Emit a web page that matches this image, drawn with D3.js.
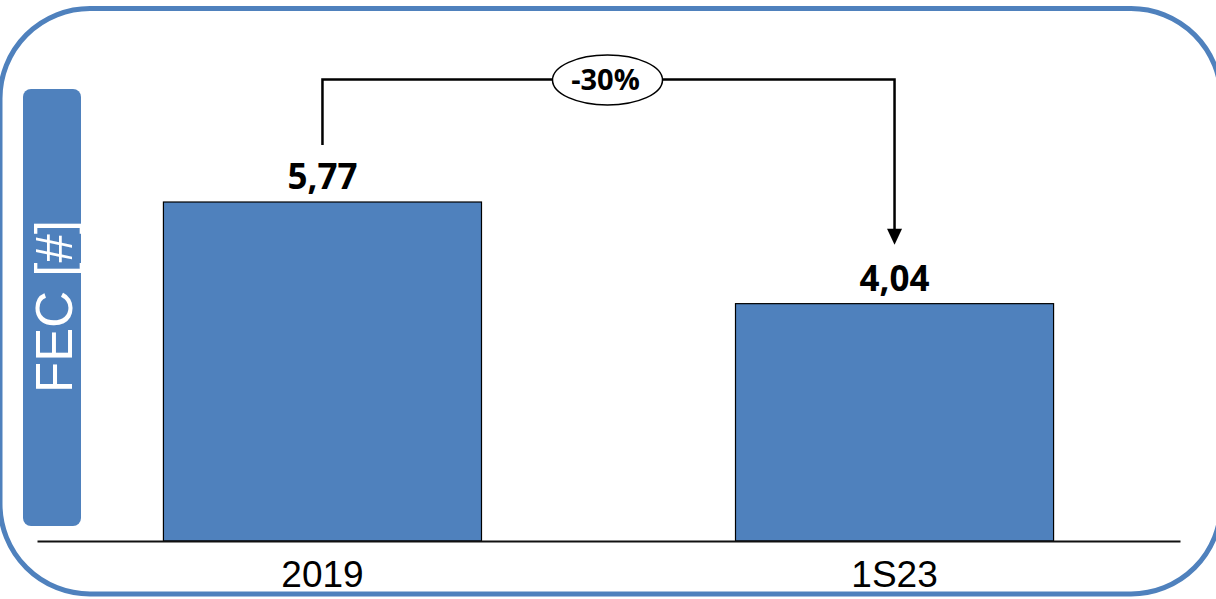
<!DOCTYPE html>
<html>
<head>
<meta charset="utf-8">
<script src="https://cdn.jsdelivr.net/npm/d3@7"></script>
<style>
  html, body { margin: 0; padding: 0; background: #fff; overflow: hidden; }
</style>
</head>
<body>
<div class="chart"></div>
<script>
const categories = ["2019", "1S23"];
const values = [5.77, 4.04];
const valueLabels = ["5,77", "4,04"];
const changeLabel = "-30%";
const axisTitle = "FEC [#]";

const blue = "#4f81bd";
const width = 1216, height = 599;

const svg = d3.select(".chart")
  .append("svg")
  .attr("width", width)
  .attr("height", height);

// outer rounded frame
svg.append("rect")
  .attr("x", 0)
  .attr("y", 8.5)
  .attr("width", 1221)
  .attr("height", 585.5)
  .attr("rx", 90)
  .attr("fill", "none")
  .attr("stroke", blue)
  .attr("stroke-width", 5);

// y title box
svg.append("rect")
  .attr("x", 23)
  .attr("y", 89)
  .attr("width", 58)
  .attr("height", 437)
  .attr("rx", 8)
  .attr("fill", blue);

svg.append("text")
  .attr("transform", "translate(72,306.5) rotate(-90)")
  .attr("text-anchor", "middle")
  .attr("font-family", "Liberation Sans, Arial, sans-serif")
  .attr("font-size", 51)
  .attr("fill", "#fff")
  .text(axisTitle);

var x = d3.scaleBand()
  .domain(categories)
  .range([37, 1180])
  .paddingInner(0.444)
  .paddingOuter(0.221);

var y = d3.scaleLinear().domain([0, 9]).range([541, 12.25]);

// bars
svg.selectAll(".bar")
  .data(values)
  .enter()
  .append("rect")
  .attr("class", "bar")
  .attr("x", function (d, i) { return x(categories[i]); })
  .attr("y", function (d) { return y(d); })
  .attr("width", x.bandwidth())
  .attr("height", function (d) { return y(0) - y(d); })
  .attr("fill", blue)
  .attr("stroke", "#000")
  .attr("stroke-width", 1.2);

// x axis
var xAxis = svg.append("g")
  .attr("transform", "translate(0," + y(0) + ")")
  .call(d3.axisBottom(x).tickSize(0).tickPadding(20));
xAxis.select(".domain").attr("stroke", "#111").attr("stroke-width", 2);
xAxis.selectAll("text")
  .attr("font-family", "Liberation Sans, Arial, sans-serif")
  .attr("font-size", 37)
  .attr("fill", "#000");

// value labels
svg.selectAll(".vlabel")
  .data(values)
  .enter()
  .append("text")
  .attr("class", "vlabel")
  .attr("x", function (d, i) { return x(categories[i]) + x.bandwidth() / 2; })
  .attr("y", function (d) { return y(d) - 13; })
  .attr("text-anchor", "middle")
  .attr("font-family", "Open Sans, sans-serif")
  .attr("font-weight", "bold")
  .attr("font-size", 35)
  .attr("fill", "#000")
  .text(function (d, i) { return valueLabels[i]; });

// change bracket
var bx1 = x(categories[0]) + x.bandwidth() / 2;
var bx2 = x(categories[1]) + x.bandwidth() / 2;
var bTop = 79.5;
var by1 = y(values[0]) - 57;
var tip = y(values[1]) - 59;

svg.append("path")
  .attr("d", "M" + bx1 + "," + by1 + "V" + bTop + "H" + bx2 + "V" + (tip - 14))
  .attr("fill", "none")
  .attr("stroke", "#000")
  .attr("stroke-width", 2.5);

svg.append("path")
  .attr("d", "M" + (bx2 - 7.5) + "," + (tip - 16) + "L" + (bx2 + 7.5) + "," + (tip - 16) + "L" + bx2 + "," + tip + "Z")
  .attr("fill", "#000");

var cx = (bx1 + bx2) / 2 - 1;
svg.append("ellipse")
  .attr("cx", cx)
  .attr("cy", 80)
  .attr("rx", 55)
  .attr("ry", 25)
  .attr("fill", "#fff")
  .attr("stroke", "#000")
  .attr("stroke-width", 1.5);

svg.append("text")
  .attr("x", cx - 2)
  .attr("y", 90)
  .attr("text-anchor", "middle")
  .attr("font-family", "Open Sans, sans-serif")
  .attr("font-weight", "bold")
  .attr("font-size", 29)
  .attr("fill", "#000")
  .text(changeLabel);
</script>
</body>
</html>
